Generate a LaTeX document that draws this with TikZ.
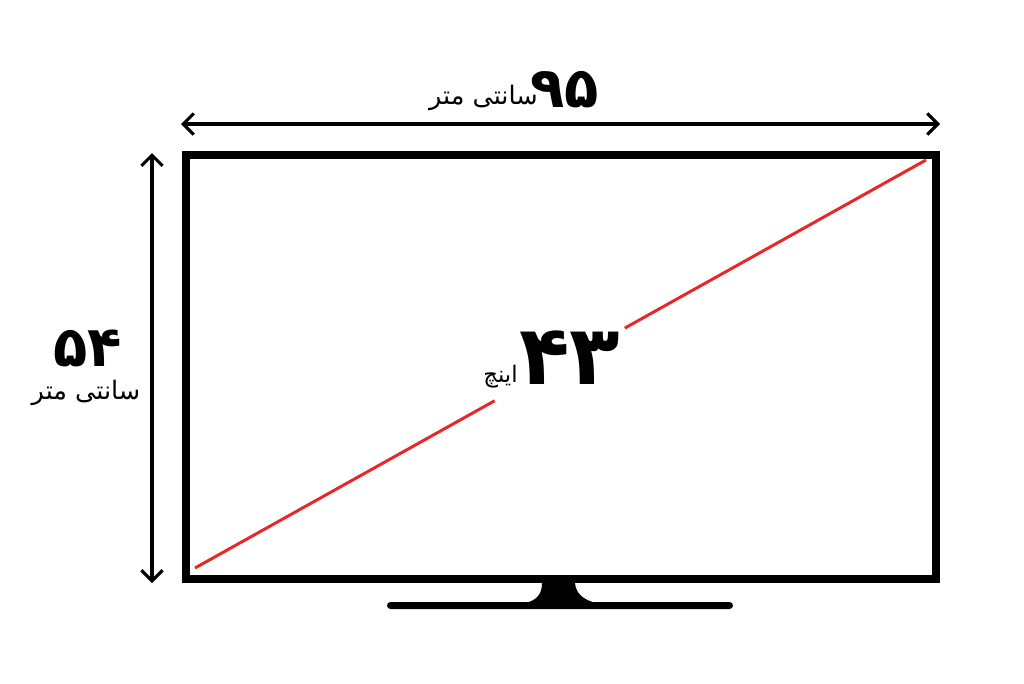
\documentclass[tikz,border=0pt]{standalone}
\usepackage{fontspec}
\usetikzlibrary{arrows.meta,calc}
\TeXXeTstate=1
\newfontfamily\farsi[Script=Arabic]{DejaVu Sans}
\newfontfamily\farsinum{DejaVu Sans}
\definecolor{diagred}{RGB}{232,40,40}

\begin{document}
\begin{tikzpicture}[x=0.02cm,y=-0.02cm,>={Straight Barb[length=6pt,width=12pt]},
                    dim/.style={<->,line width=1.8pt},
                    num/.style={inner sep=0pt,font=\fontsize{32}{32}\farsinum\bfseries},
                    unit/.style={inner sep=0pt,font=\fontsize{14.5}{14.5}\farsi}]
  \useasboundingbox (0,0) rectangle (1024,683);

  % screen
  \node[draw,line width=4.6pt,minimum width=750*0.02cm,minimum height=424*0.02cm,
        inner sep=0pt] (tv) at (561,367) {};
  % stand
  \fill (542,583) .. controls (542,595) and (536,600) .. (526,603)
        -- (596,603) .. controls (585,600) and (576,595) .. (575,583) -- cycle;
  \fill[rounded corners=2] (387,602) rectangle (733,609);

  % diagonal
  \coordinate (d1) at (195,568);
  \coordinate (d2) at (926,160);
  \draw[diagred,line width=1.7pt] (d1) -- ($(d1)!0.41!(d2)$);
  \draw[diagred,line width=1.7pt] ($(d1)!0.588!(d2)$) -- (d2);

  % dimension arrows
  \coordinate (wl) at (181,124);
  \coordinate (wr) at (940,124);
  \coordinate (ht) at (152,153);
  \coordinate (hb) at (152,583);
  \draw[dim] (wl) -- (wr);
  \draw[dim] (ht) -- (hb);

  % labels
  \node[num,anchor=base] (w95) at (565,107) {۹۵};
  \node[unit,anchor=base east] (wunit) at (538,104) {\beginR سانتی متر\endR};
  \node[num,anchor=base] (h54) at (88,366) {۵۴};
  \node[unit,anchor=base] (hunit) at (86,399) {\beginR سانتی متر\endR};
  \node[num,anchor=base,font=\fontsize{47}{47}\farsinum\bfseries] (d43) at (570,384) {۴۳};
  \node[unit,anchor=base east,font=\fontsize{13}{13}\farsi] (dunit) at (518,382) {\beginR اینچ\endR};
\end{tikzpicture}
\end{document}
